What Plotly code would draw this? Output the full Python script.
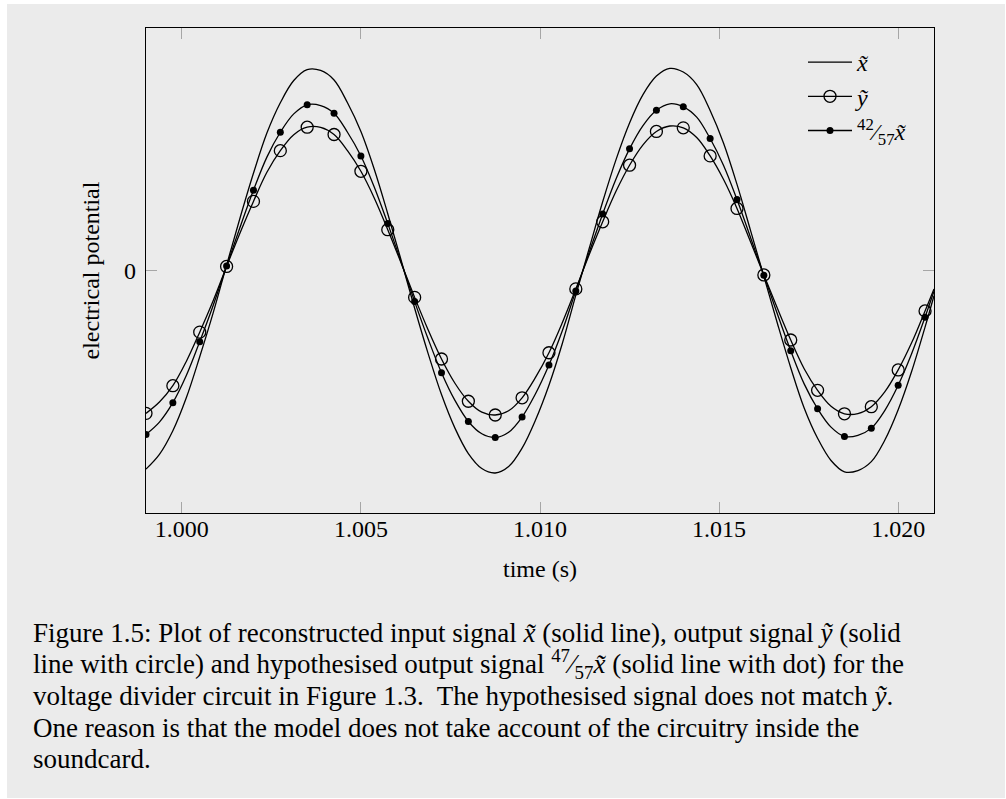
import plotly.graph_objects as go

# sample times (s) of the marked samples
sample_time = [0.99900, 0.99975, 1.00050, 1.00125, 1.00200, 1.00275, 1.00350, 1.00425,
               1.00500, 1.00575, 1.00650, 1.00725, 1.00800, 1.00875, 1.00950, 1.01025,
               1.01100, 1.01175, 1.01250, 1.01325, 1.01400, 1.01475, 1.01550, 1.01625,
               1.01700, 1.01775, 1.01850, 1.01925, 1.02000, 1.02075]
# times (s) between the marked samples, read for the connecting curves (last = right edge)
mid_time = [0.999375, 1.000125, 1.000875, 1.001625, 1.002375, 1.003125, 1.003875, 1.004625,
            1.005375, 1.006125, 1.006875, 1.007625, 1.008375, 1.009125, 1.009875, 1.010625,
            1.011375, 1.012125, 1.012875, 1.013625, 1.014375, 1.015125, 1.015875, 1.016625,
            1.017375, 1.018125, 1.018875, 1.019625, 1.020375, 1.021000]

# reconstructed input signal x~ (relative units)
x_tilde_sample = [-0.983, -0.793, -0.427, 0.027, 0.481, 0.830, 0.994, 0.943,
                  0.688, 0.281, -0.187, -0.614, -0.906, -1.002, -0.879, -0.568,
                  -0.122, 0.340, 0.730, 0.962, 0.982, 0.792, 0.426, -0.029,
                  -0.481, -0.830, -0.996, -0.946, -0.689, -0.280]
x_tilde_mid = [-0.91, -0.63, -0.21, 0.26, 0.68, 0.94, 0.99, 0.83,
               0.50, 0.05, -0.41, -0.78, -0.98, -0.97, -0.74, -0.36,
               0.11, 0.55, 0.87, 1.00, 0.92, 0.63, 0.20, -0.26,
               -0.68, -0.94, -0.99, -0.84, -0.50, -0.125]

# output signal y~
y_tilde_sample = [-0.707, -0.570, -0.305, 0.020, 0.342, 0.593, 0.709, 0.673,
                  0.491, 0.202, -0.133, -0.438, -0.647, -0.715, -0.630, -0.407,
                  -0.091, 0.241, 0.521, 0.688, 0.706, 0.567, 0.307, -0.022,
                  -0.344, -0.593, -0.709, -0.674, -0.492, -0.200]
y_tilde_mid = [-0.651, -0.450, -0.150, 0.186, 0.486, 0.672, 0.708, 0.593,
               0.358, 0.036, -0.293, -0.558, -0.701, -0.694, -0.529, -0.257,
               0.079, 0.393, 0.622, 0.715, 0.658, 0.450, 0.143, -0.186,
               -0.486, -0.672, -0.708, -0.601, -0.358, -0.091]

# hypothesised output signal (scaled x~)
scaled_sample = [-0.811, -0.654, -0.352, 0.022, 0.397, 0.684, 0.820, 0.778,
                 0.567, 0.232, -0.154, -0.506, -0.747, -0.826, -0.725, -0.468,
                 -0.101, 0.280, 0.602, 0.793, 0.810, 0.653, 0.351, -0.024,
                 -0.397, -0.684, -0.821, -0.780, -0.568, -0.231]
scaled_mid = [-0.750, -0.520, -0.173, 0.214, 0.561, 0.775, 0.816, 0.684,
              0.412, 0.041, -0.338, -0.643, -0.808, -0.800, -0.610, -0.297,
              0.091, 0.454, 0.717, 0.825, 0.759, 0.520, 0.165, -0.214,
              -0.561, -0.775, -0.816, -0.693, -0.412, -0.103]

x_ticks = [1.000, 1.005, 1.010, 1.015, 1.020]
x_tick_labels = ["1.000", "1.005", "1.010", "1.015", "1.020"]
y_ticks = [0]
y_tick_labels = ["0"]

legend_names = ["<i>x\u0303</i>", "<i>\u1ef9</i>", "<sup>42</sup>\u2044<sub>57</sub><i>x\u0303</i>"]

caption_lines = [
    "Figure 1.5: Plot of reconstructed input signal <i>x\u0303</i> (solid line), output signal <i>\u1ef9</i> (solid",
    "line with circle) and hypothesised output signal <sup>47</sup>\u2044<sub>57</sub><i>x\u0303</i> (solid line with dot) for the",
    "voltage divider circuit in Figure 1.3.  The hypothesised signal does not match <i>\u1ef9</i>.",
    "One reason is that the model does not take account of the circuitry inside the",
    "soundcard.",
]

FONT = "Liberation Serif"
BG = "#ebebeb"
W, H = 1006, 799
L, R, T, B = 146, 934, 28, 513
PW, PH = R - L, B - T
LW = 1.3


def merged(sample_vals, mid_vals):
    pts = sorted(zip(sample_time + mid_time, sample_vals + mid_vals))
    return [p[0] for p in pts], [p[1] for p in pts]


fig = go.Figure()

# connecting curves
for s_vals, m_vals in [(x_tilde_sample, x_tilde_mid), (y_tilde_sample, y_tilde_mid),
                       (scaled_sample, scaled_mid)]:
    xs, ys = merged(s_vals, m_vals)
    fig.add_trace(go.Scatter(x=xs, y=ys, mode="lines", showlegend=False, hoverinfo="skip",
                             line=dict(color="black", width=LW, shape="spline", smoothing=1.0)))

# sample markers
fig.add_trace(go.Scatter(x=sample_time, y=y_tilde_sample, mode="markers", showlegend=False,
                         marker=dict(symbol="circle-open", size=12, color="black",
                                     line=dict(width=LW, color="black"))))
fig.add_trace(go.Scatter(x=sample_time, y=scaled_sample, mode="markers", showlegend=False,
                         marker=dict(symbol="circle", size=7, color="black")))

# legend entries
fig.add_trace(go.Scatter(x=[None], y=[None], mode="lines", name=legend_names[0],
                         line=dict(color="black", width=LW)))
fig.add_trace(go.Scatter(x=[None], y=[None], mode="lines+markers", name=legend_names[1],
                         line=dict(color="black", width=LW),
                         marker=dict(symbol="circle-open", size=12, color="black",
                                     line=dict(width=LW, color="black"))))
fig.add_trace(go.Scatter(x=[None], y=[None], mode="lines+markers", name=legend_names[2],
                         line=dict(color="black", width=LW),
                         marker=dict(symbol="circle", size=7, color="black")))


def px_x(p):
    return (p - L) / PW


def px_y(p):
    return (B - p) / PH


shapes = [dict(type="rect", xref="paper", yref="paper", layer="below",
               x0=px_x(7), x1=px_x(1005), y0=px_y(798), y1=px_y(4),
               fillcolor=BG, line=dict(width=0))]

annotations = []
baselines = [641.7, 673.3, 705.0, 736.7, 768.3]
for line, base in zip(caption_lines, baselines):
    annotations.append(dict(
        text=line, xref="paper", yref="paper", x=px_x(31), y=px_y(base - 9),
        xanchor="left", yanchor="middle", showarrow=False,
        font=dict(family=FONT, size=27, color="black"), align="left",
    ))

axis_common = dict(
    showline=True, linecolor="black", linewidth=1.3, mirror="ticks",
    ticks="inside", ticklen=11, tickwidth=1, tickcolor="#a6a6a6",
    showgrid=False, zeroline=False,
    tickfont=dict(family=FONT, size=24, color="black"),
)

fig.update_layout(
    width=W, height=H,
    margin=dict(l=L, r=W - R, t=T, b=H - B, pad=0),
    paper_bgcolor="white", plot_bgcolor=BG,
    font=dict(family=FONT, size=24, color="black"),
    xaxis=dict(range=[0.999, 1.021], tickvals=x_ticks, ticktext=x_tick_labels,
               title=dict(text="time (s)", standoff=19,
                          font=dict(family=FONT, size=24, color="black")),
               ticklabelstandoff=-6, **axis_common),
    yaxis=dict(range=[-1.2, 1.2], tickvals=y_ticks, ticktext=y_tick_labels,
               title=dict(text="electrical potential", standoff=17,
                          font=dict(family=FONT, size=24, color="black")),
               ticklabelstandoff=4, **axis_common),
    showlegend=True,
    legend=dict(x=px_x(803), y=px_y(40), xanchor="left", yanchor="top",
                bgcolor="rgba(0,0,0,0)", borderwidth=0, itemwidth=44,
                font=dict(family=FONT, size=24, color="black"),
                tracegroupgap=0),
    shapes=shapes,
    annotations=annotations,
)

fig.write_html("out.html")
